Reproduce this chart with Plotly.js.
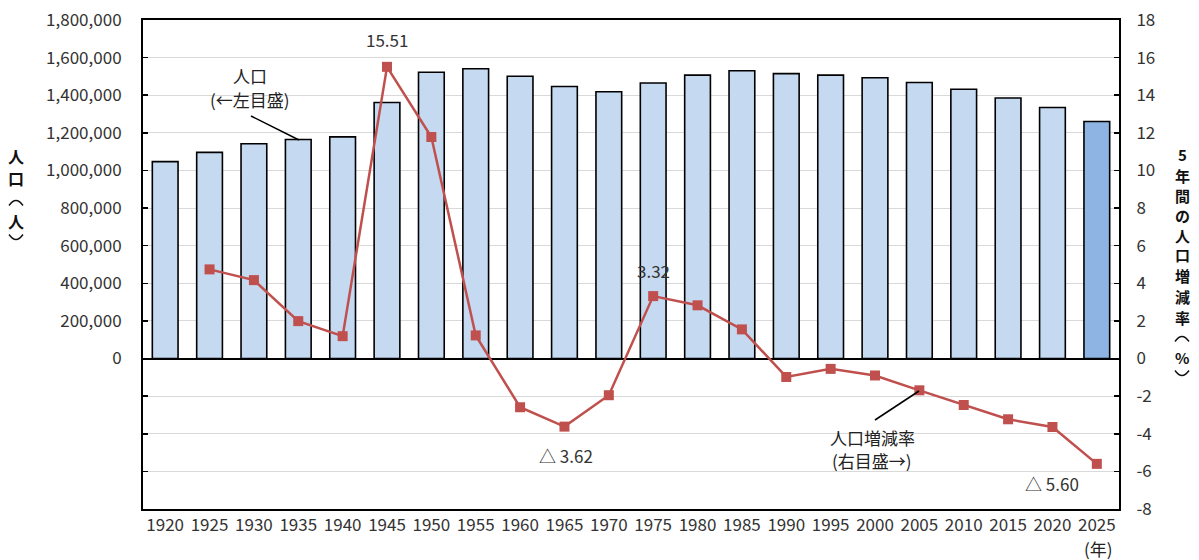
<!DOCTYPE html>
<html>
<head>
<meta charset="utf-8">
<script src="https://cdn.plot.ly/plotly-3.0.1.min.js"></script>
<style>html,body{margin:0;padding:0;background:#fff;}#chart{width:1199px;height:560px;}</style>
</head>
<body>
<div id="chart"></div>
<script>
// ---- data ----
const years = ['1920','1925','1930','1935','1940','1945','1950','1955','1960','1965','1970','1975','1980','1985','1990','1995','2000','2005','2010','2015','2020','2025'];
const population = [1046720,1096366,1142122,1164898,1178705,1361484,1521878,1540628,1500687,1446384,1418124,1465215,1506637,1529983,1515025,1506700,1493092,1467815,1431493,1385262,1334841,1260100];
const rateYears = ['1925','1930','1935','1940','1945','1950','1955','1960','1965','1970','1975','1980','1985','1990','1995','2000','2005','2010','2015','2020','2025'];
const rate = [4.74,4.17,1.99,1.19,15.51,11.78,1.23,-2.59,-3.62,-1.95,3.32,2.83,1.55,-0.98,-0.55,-0.90,-1.69,-2.47,-3.23,-3.64,-5.60];
const leftTickVals = [-800000,-600000,-400000,-200000,0,200000,400000,600000,800000,1000000,1200000,1400000,1600000,1800000];
const leftTickText = ['','','','','0','200,000','400,000','600,000','800,000','1,000,000','1,200,000','1,400,000','1,600,000','1,800,000'];
const rightTickVals = [-8,-6,-4,-2,0,2,4,6,8,10,12,14,16,18];
const rightTickText = ['-8','-6','-4','-2','0','2','4','6','8','10','12','14','16','18'];
// vertical titles: '(' and ')' are drawn as vertical-writing arcs
const leftTitle = ['人','口','(','人',')'];
const rightTitle = ['5','年','間','の','人','口','増','減','率','(','%',')'];
const labeled = [
  {x:'1945', y:15.51, text:'15.51'},
  {x:'1975', y:3.32, text:'3.32'},
  {x:'1965', y:-3.62, text:'△ 3.62'},
  {x:'2025', y:-5.60, text:'△ 5.60'}
];

// ---- layout helpers ----
const L=143, R=1119, T=20, B=509;
const fx = px => (px-L)/(R-L);
const fy = py => (B-py)/(B-T);
const FONT = '"Noto Sans CJK JP", "Noto Sans", sans-serif';

const barColors = years.map((y,i)=> i===years.length-1 ? '#8db4e2' : '#c5d9f1');
const xi = y => years.indexOf(y);

const traces = [
  {type:'bar', x:years.map(xi), y:population, yaxis:'y', width:0.58,
   marker:{color:barColors, line:{color:'#000', width:1.6}}},
  {type:'scatter', mode:'lines+markers', x:rateYears.map(xi), y:rate, yaxis:'y2',
   line:{color:'#c0504d', width:2.5}, marker:{symbol:'square', size:10, color:'#c0504d'}}
];

const annotations = [];
const shapes = [];
const arc = (cx, cy, open) => { // open: 'down' for ︵, 'up' for ︶
  const w = 7, h = 5;
  const ye = open==='down' ? cy+h/2 : cy-h/2;
  const yc = open==='down' ? cy-h*1.5 : cy+h*1.5;
  return {type:'path', xref:'paper', yref:'paper',
    path:`M ${fx(cx-w)},${fy(ye)} Q ${fx(cx)},${fy(yc)} ${fx(cx+w)},${fy(ye)}`,
    line:{color:'#111', width:1.4}};
};
const vtitle = (chars, cx, ys, size) => chars.forEach((c,i)=>{
  if (c==='(') { shapes.push(arc(cx, ys[i], 'down')); return; }
  if (c===')') { shapes.push(arc(cx, ys[i], 'up')); return; }
  annotations.push({xref:'paper',yref:'paper',x:fx(cx),y:fy(ys[i]),text:c,showarrow:false,xanchor:'center',yanchor:'middle',
    borderpad:0, font:{family:FONT,size:size,color:'#111',weight:'bold'}});
});
vtitle(leftTitle, 16, [156,178,203,221,237], 16);
vtitle(rightTitle, 1182, [155,175,195,215,235,255,275,296,317,339,357,373], 15);

const lblOff = {'15.51':[0,27],'3.32':[0,26],'△ 3.62':[2,-29],'△ 5.60':[-45,-20]};
labeled.forEach(d=>annotations.push({xref:'x',yref:'y2',x:xi(d.x),y:d.y,text:d.text,showarrow:false,xshift:lblOff[d.text][0],yshift:lblOff[d.text][1],xanchor:'center',yanchor:'middle',font:{family:FONT,size:17,color:'#333'}}));

const txt = (px,py,t)=>({xref:'paper',yref:'paper',x:fx(px),y:fy(py),text:t,showarrow:false,xanchor:'center',yanchor:'middle',font:{family:FONT,size:17,color:'#222'}});
annotations.push(txt(250,75,'人口'));
annotations.push(txt(250,100,'(←左目盛)'));
annotations.push(txt(872,437,'人口増減率'));
annotations.push(txt(872,460,'(右目盛→)'));
annotations.push(txt(1098,548,'(年)'));

shapes.push(
  {type:'rect',xref:'paper',yref:'paper',x0:fx(187),x1:fx(313),y0:fy(113),y1:fy(62),fillcolor:'#fff',line:{width:0},layer:'between'},
  {type:'rect',xref:'paper',yref:'paper',x0:fx(812),x1:fx(940),y0:fy(478),y1:fy(421),fillcolor:'#fff',line:{width:0},layer:'between'},
  {type:'line',xref:'paper',yref:'paper',x0:fx(251),y0:fy(116),x1:fx(299),y1:fy(140),line:{color:'#000',width:1.5}},
  {type:'line',xref:'paper',yref:'paper',x0:fx(875),y0:fy(420),x1:fx(919),y1:fy(391),line:{color:'#000',width:1.5}}
);

const layout = {
  width:1199, height:560,
  margin:{l:L, r:1199-R, t:T, b:560-B, pad:0},
  paper_bgcolor:'#fff', plot_bgcolor:'#fff',
  showlegend:false,
  font:{family:FONT, size:17, color:'#333'},
  xaxis:{type:'linear', range:[-0.5, years.length-0.5], tickmode:'array', tickvals:years.map(xi), ticktext:years,
         showgrid:false, zeroline:false, showline:true, mirror:true, linecolor:'#000', linewidth:2,
         ticks:'', tickfont:{family:FONT,size:17,color:'#333'}, ticklabelstandoff:0},
  yaxis:{range:[-800000,1800000], tickmode:'array', tickvals:leftTickVals, ticktext:leftTickText,
         showgrid:true, gridcolor:'#d9d9d9', gridwidth:1, zeroline:true, zerolinecolor:'#000', zerolinewidth:2,
         showline:true, linecolor:'#000', linewidth:2, ticks:'inside', ticklen:5, tickcolor:'#000', tickwidth:1.5,
         tickfont:{family:FONT,size:17,color:'#333'}, ticklabelstandoff:16},
  yaxis2:{range:[-8,18], overlaying:'y', side:'right', tickmode:'array', tickvals:rightTickVals, ticktext:rightTickText,
          showgrid:false, zeroline:false, showline:true, linecolor:'#000', linewidth:2,
          ticks:'inside', ticklen:5, tickcolor:'#000', tickwidth:1.5,
          tickfont:{family:FONT,size:17,color:'#333'}, ticklabelstandoff:12},
  annotations:annotations,
  shapes:shapes
};

Plotly.newPlot('chart', traces, layout, {displayModeBar:false, staticPlot:true});
</script>
</body>
</html>
